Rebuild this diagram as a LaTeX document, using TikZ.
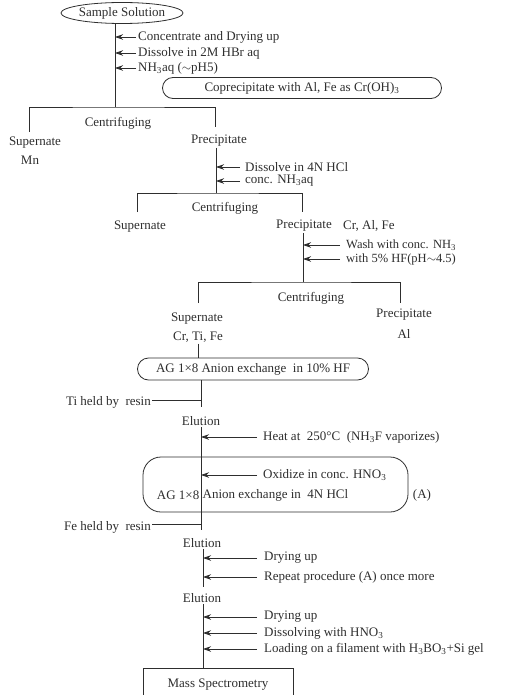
\documentclass[tikz,border=0pt]{standalone}
\usepackage{fontspec}
\setmainfont{Liberation Serif}
\usetikzlibrary{arrows.meta,shapes.geometric,shapes.misc}
\definecolor{ink}{HTML}{2E2E2E}
\begin{document}
\begin{tikzpicture}[x=1pt,y=-1pt,
  every node/.style={font=\fontsize{13}{15}\selectfont, text=ink, inner sep=1pt},
  ln/.style={draw=ink, line width=0.8pt},
  arr/.style={ln, -{Stealth[length=8pt,width=5.5pt]}},
  lbl/.style={anchor=west, inner ysep=0pt},
  boxed/.style={draw=ink, line width=0.8pt},
]
\useasboundingbox (0,0) rectangle (504,695);

% ---- top
\node[boxed, ellipse, minimum width=121pt, minimum height=21pt, inner sep=0pt] (sample) at (122,13) {Sample Solution};
\coordinate (j1) at (115,107);
\draw[ln] (sample.south -| j1) -- (j1);
\node[lbl, inner xsep=2pt] (s1) at (136,37) {Concentrate and Drying up};
\node[lbl, inner xsep=2pt] (s2) at (136,53) {Dissolve in 2M HBr aq};
\node[lbl, inner xsep=2pt] (s3) at (136,68) {NH\textsubscript{3}aq ($\sim$pH5)};
\foreach \s in {s1,s2,s3} \draw[arr] (\s.west) -- (\s.west -| j1);
\node[boxed, rounded rectangle, minimum width=281pt, minimum height=21pt] (copre) at (302,88) {Coprecipitate with Al, Fe as Cr(OH)\textsubscript{3}};

% ---- centrifuging 1
\coordinate (b1l) at (29,132);
\coordinate (b1r) at (215,127);
\draw[ln] (b1l) |- (j1) -| (b1r);
\node (cen1) at (118,123) {Centrifuging};
\node (sup1) at (35,143) {Supernate};
\node (mn) at (30,160) {Mn};
\node (pre1) at (219,141) {Precipitate};
\coordinate (j2) at (216,193);
\draw[ln] (pre1.south -| j2) -- (j2);
\node[lbl, inner xsep=5pt] (s4) at (240,167) {Dissolve in 4N HCl};
\node[lbl, inner xsep=5pt] (s5) at (240,181) {conc. NH\textsubscript{3}aq};
\foreach \s in {s4,s5} \draw[arr] (\s.west) -- (\s.west -| j2);

% ---- centrifuging 2
\coordinate (b2l) at (137,212);
\coordinate (b2r) at (302,212);
\draw[ln] (b2l) |- (j2) -| (b2r);
\node (cen2) at (225,208) {Centrifuging};
\node (sup2) at (140,227) {Supernate};
\node (pre2) at (304,226) {Precipitate};
\node[anchor=west] (craf) at (342,226) {Cr, Al, Fe};
\coordinate (j3) at (303,282);
\draw[ln] (pre2.south -| j3) -- (j3);
\node[lbl, inner xsep=6pt, font=\fontsize{12.5}{14}\selectfont] (s6) at (340,245) {Wash with conc. NH\textsubscript{3}};
\node[lbl, inner xsep=6pt, font=\fontsize{12.5}{14}\selectfont] (s7) at (340,259) {with 5\% HF(pH$\sim$4.5)};
\foreach \s in {s6,s7} \draw[arr] (\s.west) -- (\s.west -| j3);

% ---- centrifuging 3
\coordinate (b3l) at (198,303);
\coordinate (b3r) at (400,303);
\draw[ln] (b3l) |- (j3) -| (b3r);
\node (cen3) at (311,298) {Centrifuging};
\node (sup3) at (197,319) {Supernate};
\node (ctf) at (198,337) {Cr, Ti, Fe};
\node (pre3) at (404,315) {Precipitate};
\node (al) at (404,334) {Al};

\node[boxed, rounded rectangle, minimum width=233pt, minimum height=22pt] (ag1) at (253,369) {AG 1×8 Anion exchange\ \ in 10\% HF};
\draw[ln] (ctf.south) -- (ctf.south |- ag1.north);

% ---- Ti held
\coordinate (tj) at (201,400);
\coordinate (tend) at (201,407);
\draw[ln] (ag1.south -| tj) -- (tend);
\node[anchor=east] (ti) at (152,402) {Ti held by\ \ resin};
\draw[ln] (ti.east |- tj) -- (tj);
\node (elu1) at (201,421) {Elution};

% ---- box (A)
\node[boxed, rounded corners=18pt, minimum width=265pt, minimum height=55pt, inner sep=0pt] (boxA) at (275.5,484.5) {};
\coordinate (fj) at (201,524);
\coordinate (fend) at (201,530);
\draw[ln] (elu1.south) -- (fend);
\node[lbl, inner xsep=6pt] (s8) at (257,437) {Heat at\ \ 250°C\ \ (NH\textsubscript{3}F vaporizes)};
\node[lbl, inner xsep=6pt] (s9) at (257,475) {Oxidize in conc. HNO\textsubscript{3}};
\foreach \s in {s8,s9} \draw[arr] (\s.west) -- (\s.west -| fj);
\node[anchor=east, inner xsep=1.5pt] (agA1) at (201,495) {AG 1×8};
\node[anchor=west, inner xsep=1.5pt] (agA2) at (201,495) {Anion exchange in\ \ 4N HCl};
\node (lblA) at (422,495) {(A)};

% ---- Fe held
\node[anchor=east] (fe) at (152,527) {Fe held by\ \ resin};
\draw[ln] (fe.east |- fj) -- (fj);
\node (elu2) at (202,543) {Elution};
\coordinate (v2) at (203,587);
\draw[ln] (elu2.south -| v2) -- (v2);
\node[lbl, inner xsep=7pt] (s10) at (257,558) {Drying up};
\node[lbl, inner xsep=7pt] (s11) at (257,577) {Repeat procedure (A) once more};
\foreach \s in {s10,s11} \draw[arr] (\s.west) -- (\s.west -| v2);

\node (elu3) at (202,598) {Elution};
\coordinate (v3) at (203,668);
\draw[ln] (elu3.south -| v3) -- (v3);
\node[lbl, inner xsep=7pt] (s12) at (257,617) {Drying up};
\node[lbl, inner xsep=7pt] (s13) at (257,633) {Dissolving with HNO\textsubscript{3}};
\node[lbl, inner xsep=7pt] (s14) at (257,649) {Loading on a filament with H\textsubscript{3}BO\textsubscript{3}+Si gel};
\foreach \s in {s12,s13,s14} \draw[arr] (\s.west) -- (\s.west -| v3);

% ---- Mass spectrometry (box cut by the page edge)
\node (ms) at (218,685) {Mass Spectrometry};
\coordinate (msbl) at (143,695);
\coordinate (mstr) at (293,668);
\coordinate (msbr) at (293,695);
\draw[ln] (msbl) |- (mstr) -- (msbr);
\end{tikzpicture}
\end{document}
